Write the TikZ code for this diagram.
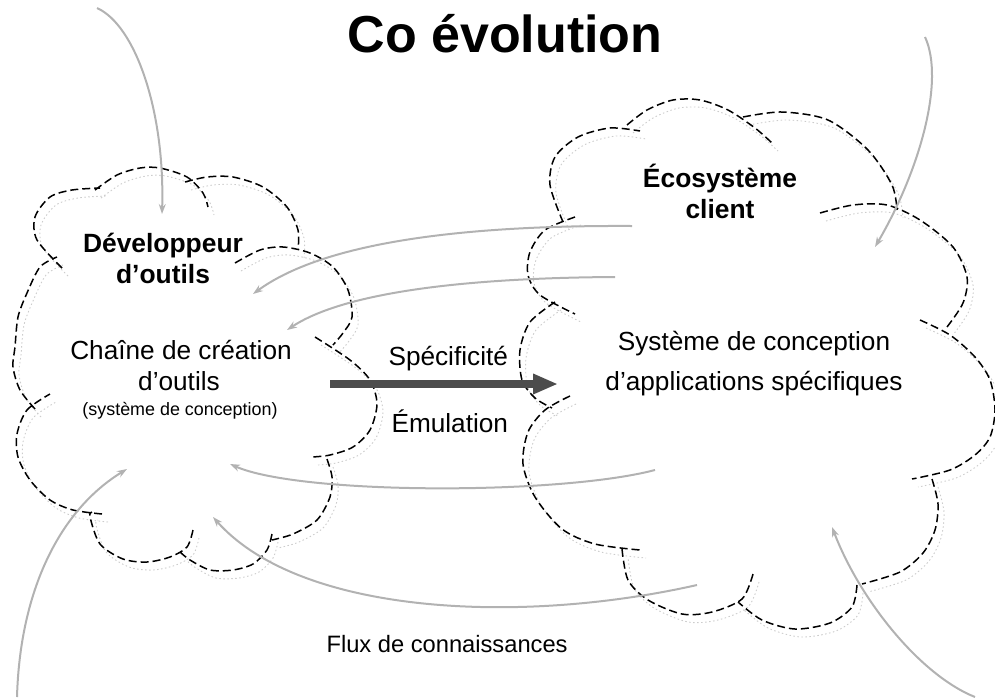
\documentclass[tikz,border=0pt]{standalone}
\usepackage{fontspec}
\setmainfont{Liberation Sans}
\usetikzlibrary{arrows.meta}

% Outline of the tool-developer cloud, lobe by lobe
\def\devcloud{
  plot[smooth] coordinates {(62,268) (37,240) (35,217) (50,197) (72,190) (100,188)}
  plot[smooth] coordinates {(95,190) (117,175) (140,168) (160,168) (187,177) (203,193) (208,207)}
  plot[smooth] coordinates {(185,182) (207,177) (233,177) (263,187) (287,207) (298,230) (298,250)}
  plot[smooth] coordinates {(235,263) (260,250) (283,247) (310,253) (333,267) (348,290) (352,317) (343,333) (333,345)}
  plot[smooth] coordinates {(315,337) (350,360) (370,380) (377,404) (370,430) (353,447) (330,455) (312,457)}
  plot[smooth] coordinates {(327,459) (332,477) (330,497) (317,520) (293,534) (272,540)}
  plot[smooth] coordinates {(272,534) (267,550) (253,564) (233,570) (210,570) (190,560) (180,552)}
  plot[smooth] coordinates {(193,530) (187,547) (170,557) (147,562) (123,559) (100,544) (90,517) (92,512)}
  plot[smooth] coordinates {(102,514) (73,510) (50,500) (30,480) (18,457) (17,434) (27,410) (50,394)}
  plot[smooth] coordinates {(35,409) (20,390) (13,367) (15,347) (18,317) (27,293) (40,267) (57,257)}
}

% Outline of the client-ecosystem cloud, lobe by lobe
\def\clientcloud{
  plot[smooth] coordinates {(563,222) (550,185) (555,157) (578,137) (610,128) (640,131)}
  plot[smooth] coordinates {(627,125) (647,110) (673,100) (700,100) (728,110) (755,128) (772,143)}
  plot[smooth] coordinates {(743,117) (782,112) (828,120) (868,150) (892,185) (897,210)}
  plot[smooth] coordinates {(820,213) (853,205) (887,205) (920,220) (953,247) (967,277) (963,303) (947,327)}
  plot[smooth] coordinates {(920,320) (950,335) (975,357) (990,380) (995,410) (990,437) (975,455) (950,470) (912,479)}
  plot[smooth] coordinates {(932,479) (938,504) (935,530) (923,553) (900,572) (862,584)}
  plot[smooth] coordinates {(857,585) (852,607) (830,623) (795,629) (762,620) (738,602)}
  plot[smooth] coordinates {(753,574) (742,599) (712,612) (682,614) (648,600) (628,580) (622,549)}
  plot[smooth] coordinates {(570,396) (545,410) (528,432) (523,464) (535,497) (562,529) (595,544) (640,550)}
  plot[smooth] coordinates {(555,302) (530,322) (520,350) (522,380) (535,398) (552,408)}
  plot[smooth] coordinates {(575,217) (545,230) (530,252) (528,275) (540,295) (575,314)}
}

\begin{document}
\begin{tikzpicture}[x=1pt,y=-1pt,
  cloudline/.style={black, line width=1.5pt, dash pattern=on 8pt off 4pt},
  cloudshade/.style={gray!40, line width=0.9pt, dash pattern=on 1.5pt off 2.5pt, shift={(6,8)}},
  flow/.style={gray!60, line width=2pt, -{Stealth[length=10pt,width=7pt]}},
  bigarrow/.style={black!70, line width=8pt, -{Triangle[length=25pt,width=19pt]}},
  titletext/.style={font=\fontsize{52}{60}\selectfont\bfseries, anchor=base},
  headtext/.style={font=\fontsize{26.4}{32}\selectfont\bfseries, anchor=base},
  bodytext/.style={font=\fontsize{26.2}{32}\selectfont, anchor=base},
  smalltext/.style={font=\fontsize{17.9}{22}\selectfont, anchor=base},
  flowtext/.style={font=\fontsize{23.7}{28}\selectfont, anchor=base west},
]
\useasboundingbox (0,0) rectangle (995,697);

% clouds: faint shadow first, dashed outline on top
\draw[cloudshade] \devcloud;
\draw[cloudshade] \clientcloud;
\draw[cloudline] \devcloud;
\draw[cloudline] \clientcloud;

% texts
\node[titletext] (title) at (505,52) {Co évolution};
\node[headtext] (dev1) at (163,252) {Développeur};
\node[headtext] (dev2) at (163,283) {d’outils};
\node[headtext] (eco1) at (720,187) {Écosystème};
\node[headtext] (eco2) at (720,218) {client};
\node[bodytext] (chain1) at (181,359) {Chaîne de création};
\node[bodytext] (chain2) at (179,390) {d’outils};
\node[smalltext] (chain3) at (180,415) {(système de conception)};
\node[bodytext] (sys1) at (754,350) {Système de conception};
\node[bodytext] (sys2) at (754,390) {d’applications spécifiques};
\node[bodytext, anchor=base west] (spec) at (385,365) {Spécificité};
\node[bodytext, anchor=base west] (emul) at (388,432) {Émulation};
\node[flowtext] (flux) at (323,652) {Flux de connaissances};

% end points of the knowledge-flow arrows
\coordinate (a0) at (97,8);    \coordinate (a1) at (162,214);
\coordinate (b0) at (925,37);  \coordinate (b1) at (875,247);
\coordinate (c0) at (632,226); \coordinate (c1) at (253,294);
\coordinate (d0) at (615,277); \coordinate (d1) at (287,330);
\coordinate (e0) at (655,470); \coordinate (e1) at (230,464);
\coordinate (f0) at (697,585); \coordinate (f1) at (213,517);
\coordinate (g0) at (17,697);  \coordinate (g1) at (127,469);
\coordinate (h0) at (975,697); \coordinate (h1) at (832,527);
\coordinate (k0) at (330,384); \coordinate (k1) at (558,384);

% knowledge flows
\draw[flow] (a0) .. controls (135,25) and (165,110) .. (a1);
\draw[flow] (b0) .. controls (945,80) and (920,170) .. (b1);
\draw[flow] (c0) .. controls (450,225) and (320,245) .. (c1);
\draw[flow] (d0) .. controls (450,278) and (340,295) .. (d1);
\draw[flow] (e0) .. controls (560,495) and (300,495) .. (e1);
\draw[flow] (f0) .. controls (520,625) and (300,615) .. (f1);
\draw[flow] (g0) .. controls (20,590) and (60,510) .. (g1);
\draw[flow] (h0) .. controls (920,675) and (860,600) .. (h1);

% specificity / emulation arrow
\draw[bigarrow] (k0) -- (k1);
\end{tikzpicture}
\end{document}
